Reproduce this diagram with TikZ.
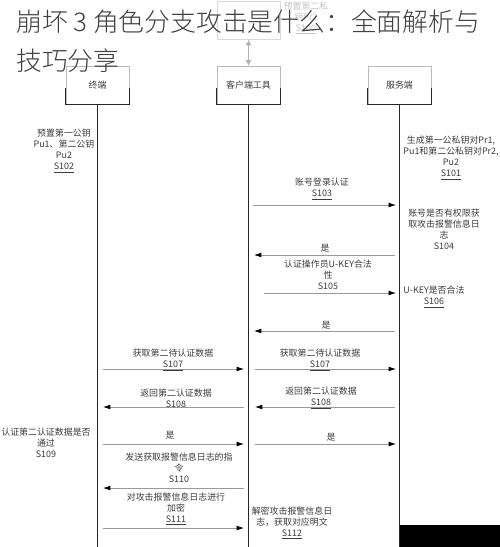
\documentclass[tikz,border=0pt]{standalone}
\usepackage{fontspec}
\setmainfont{Noto Sans CJK SC}
\newfontfamily\ttlfont{Noto Sans CJK SC Light}
\usetikzlibrary{arrows.meta}
\definecolor{txt}{HTML}{3C3C3C}
\definecolor{ttl}{HTML}{404040}
\definecolor{msgc}{HTML}{9A9A9A}
\begin{document}
\begin{tikzpicture}[x=0.75pt,y=-0.75pt,
  lbl/.style={font=\fontsize{6.7}{8.2}\selectfont, text=txt, align=center, inner sep=0pt},
  msg/.style={draw=msgc, line width=0.55pt, -{Latex[color=black,length=5.5pt,width=3.6pt]}},
  lifeline/.style={draw=black!85, line width=1pt},
  actor/.style={draw=gray!55, line width=0.5pt, minimum width=47.25pt, minimum height=28.5pt, inner sep=0pt, font=\fontsize{6.7}{8}\selectfont, text=txt},
  boxedge/.style={draw=black!85, line width=0.9pt},
  titlefont/.style={font=\ttlfont\fontsize{19.35}{23}\selectfont, text=ttl, inner sep=0pt, anchor=base west}]
\useasboundingbox[fill=white] (0,0) rectangle (500,547);

% faded box at top
\node[draw=gray!30, line width=0.5pt, minimum width=47.25pt, minimum height=28.5pt, inner sep=0pt] (pre) at (248.5,20) {};
\node[lbl, text=gray!45] (pretxt) at (306,18) {预置第二私\\钥Pr2\\\underline{S100}};

% actors
\node[actor] (term) at (97.5,85.5) {终端};
\node[actor] (cli) at (248.5,85.5) {客户端工具};
\node[actor] (srv) at (399.5,85.5) {服务端};
\foreach \b in {term,cli,srv}{
  \draw[boxedge] ([yshift=13pt]\b.south west) |- (\b.south east) -- ([yshift=13pt]\b.south east);
}
\draw[draw=gray!60, line width=0.9pt, {Latex[length=4.5pt,width=4.5pt]}-{Latex[length=4.5pt,width=4.5pt]}] (pre.south) -- (cli.north);

% lifelines
\coordinate (termEnd) at (97.5,547);
\coordinate (cliEnd) at (248.5,547);
\coordinate (srvEnd) at (399.5,547);
\draw[lifeline] (term.south) -- (termEnd);
\draw[lifeline] (cli.south) -- (cliEnd);
\draw[lifeline] (srv.south) -- (srvEnd);

% side notes
\node[lbl] (s102) at (64,151) {预置第一公钥\\Pu1、第二公钥\\Pu2\\\underline{S102}};
\node[lbl] (s101) at (451,158) {生成第一公私钥对Pr1,\\Pu1和第二公私钥对Pr2,\\Pu2\\\underline{S101}};
\node[lbl] (s104) at (444,229) {账号是否有权限获\\取攻击报警信息日\\志\\S104};
\node[lbl] (s106) at (434,297) {U-KEY是否合法\\\underline{S106}};
\node[lbl] (s109) at (46,443) {认证第二认证数据是否\\通过\\S109};

% message labels
\node[lbl] (l103) at (322,189) {账号登录认证\\\underline{S103}};
\node[lbl] (y1) at (325,248) {是};
\node[lbl] (l105) at (328,275) {认证操作员U-KEY合法\\性\\S105};
\node[lbl] (y2) at (326,325) {是};
\node[lbl] (l107a) at (173,360) {获取第二待认证数据\\\underline{S107}};
\node[lbl] (l107b) at (320,360) {获取第二待认证数据\\\underline{S107}};
\node[lbl] (l108a) at (176,398) {返回第二认证数据\\S108};
\node[lbl] (l108b) at (321,398) {返回第二认证数据\\\underline{S108}};
\node[lbl] (y3) at (170,435) {是};
\node[lbl] (y4) at (331,437) {是};
\node[lbl] (l110) at (179,468) {发送获取报警信息日志的指\\令\\S110};
\node[lbl] (l111) at (176,509) {对攻击报警信息日志进行\\加密\\\underline{S111}};
\node[lbl] (l112) at (292,523) {解密攻击报警信息日\\志，获取对应明文\\\underline{S112}};

% message endpoints
\coordinate (a1s) at (253,205);  \coordinate (a1e) at (396,205);
\coordinate (a2s) at (395,255);  \coordinate (a2e) at (254,255);
\coordinate (a3s) at (264,293);  \coordinate (a3e) at (396,293);
\coordinate (a4s) at (395,331);  \coordinate (a4e) at (254,331);
\coordinate (a5s) at (103,369);  \coordinate (a5e) at (244,369);
\coordinate (a6s) at (255,369);  \coordinate (a6e) at (396,369);
\coordinate (a7s) at (244,407);  \coordinate (a7e) at (103,407);
\coordinate (a8s) at (395,407);  \coordinate (a8e) at (255,407);
\coordinate (a9s) at (103,444);  \coordinate (a9e) at (244,444);
\coordinate (a10s) at (255,444); \coordinate (a10e) at (396,444);
\coordinate (a11s) at (244,488); \coordinate (a11e) at (103,488);
\coordinate (a12s) at (103,528); \coordinate (a12e) at (244,528);
\foreach \i in {1,...,12}{ \draw[msg] (a\i s) -- (a\i e); }

% title overlay
\node[titlefont] (title1) at (16,31) {崩坏 3 角色分支攻击是什么：全面解析与};
\node[titlefont] (title2) at (16,70) {技巧分享};

% dark corner
\fill[black] (400,525) rectangle (500,547);
\end{tikzpicture}
\end{document}
